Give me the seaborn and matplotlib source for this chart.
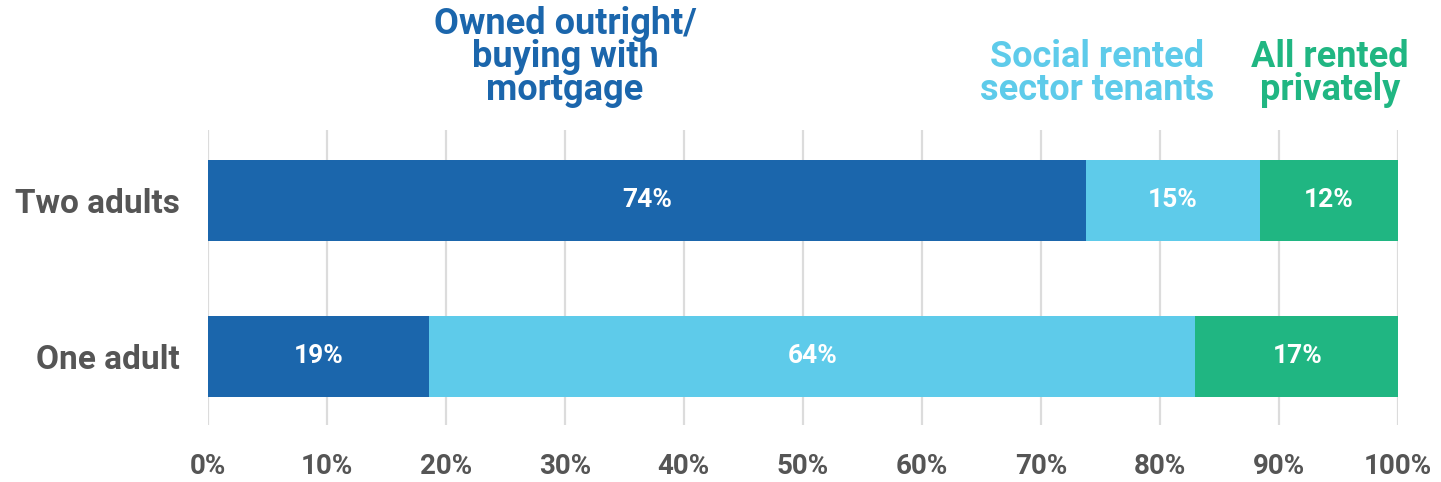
import numpy as np
import pandas as pd
import seaborn as sns
import matplotlib.pyplot as plt
import matplotlib.transforms as mtransforms

groups = ["Two adults", "One adult"]
tenures = ["Owned outright/\nbuying with\nmortgage", "Social rented\nsector tenants", "All rented\nprivately"]
owned = [73.8, 18.6]
social = [14.6, 64.4]
private = [11.6, 17.1]
colors = ["#1b66ac", "#5ecbea", "#20b682"]
ticks = list(range(0, 101, 10))

sns.set_theme(style="white")
plt.rcParams['font.family'] = ['Roboto', 'DejaVu Sans']

df = pd.DataFrame({"group": groups, "owned": owned, "social": social, "private": private})
df["c1"] = df["owned"]
df["c2"] = df["owned"] + df["social"]
df["c3"] = df["c2"] + df["private"]

fig = plt.figure(figsize=(14.41, 4.82), dpi=100)
ax = fig.add_axes([0.1443, 0.118, 0.8257, 0.612])

for i in range(len(ticks)):
    ax.axvline(ticks[i], color="#dcdcdc", lw=1.6, zorder=0)

# stacked bars: draw the longest cumulative first
for col, c in zip(["c3", "c2", "c1"], colors[::-1]):
    sns.barplot(data=df, x=col, y="group", orient="h", color=c, width=0.52,
                saturation=1, linewidth=0, ax=ax, zorder=2)

# value labels in the middle of each segment
for i, row in df.iterrows():
    starts = [0, row["c1"], row["c2"]]
    vals = [row["owned"], row["social"], row["private"]]
    for s, v in zip(starts, vals):
        ax.text(s + v / 2, i, f"{round(v)}%", ha="center", va="center",
                color="white", fontsize=19, fontweight="bold", zorder=3)

ax.set_xlim(0, 100)
ax.set_ylim(1.44, -0.45)
ax.set_xticks(ticks)
ax.set_xticklabels([f"{t}%" for t in ticks], fontsize=20, color="#555555", fontweight="bold")
ax.tick_params(axis="x", length=0, pad=20)
ax.tick_params(axis="y", length=0, pad=20)
for lab in ax.get_yticklabels():
    lab.set_fontsize(24)
    lab.set_color("#555555")
    lab.set_fontweight("bold")
ax.set_xlabel("")
ax.set_ylabel("")
sns.despine(ax=ax, left=True, bottom=True)

# category headers above the bars
trans = mtransforms.blended_transform_factory(ax.transData, fig.transFigure)
header_x = [30.0, 74.7, 94.3]
header_y = [0.775, 0.775, 0.775]
for t, x, y, c in zip(tenures, header_x, header_y, colors):
    ax.text(x, y, t, transform=trans, ha="center", va="bottom", color=c,
            fontsize=26, fontweight="bold", linespacing=0.9)

fig.savefig("out.png", dpi=100)
